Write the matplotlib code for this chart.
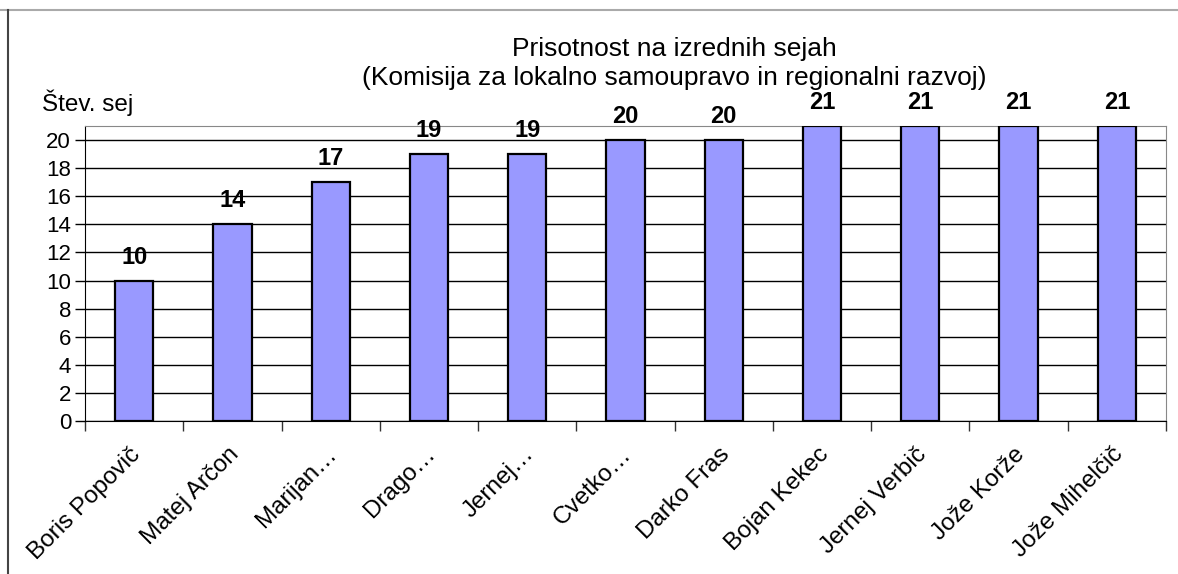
import matplotlib.pyplot as plt
from matplotlib.lines import Line2D

names = ['Boris Popovič', 'Matej Arčon', 'Marijan…', 'Drago…', 'Jernej…', 'Cvetko…',
         'Darko Fras', 'Bojan Kekec', 'Jernej Verbič', 'Jože Korže', 'Jože Mihelčič']
sessions = [10, 14, 17, 19, 19, 20, 20, 21, 21, 21, 21]
yticks = list(range(0, 21, 2))

plt.rcParams['font.family'] = ['Liberation Sans', 'DejaVu Sans']

W, H = 1178, 574
fig = plt.figure(figsize=(W / 100, H / 100), dpi=100)
ax = fig.add_axes([85 / W, 1 - 421 / H, (1166 - 85) / W, 295 / H])

# outer frame of the chart (only top and left edges are visible)
fig.lines.append(Line2D([0, 1], [1 - 9.5 / H, 1 - 9.5 / H], transform=fig.transFigure,
                        color='#aaaaaa', linewidth=1.5))
fig.lines.append(Line2D([7.5 / W, 7.5 / W], [0, 1 - 9.5 / H], transform=fig.transFigure,
                        color='#444444', linewidth=1.5))

x = list(range(len(names)))
ax.bar(x, sessions, width=0.39, color='#9999ff', edgecolor='black', linewidth=1.6, zorder=3)
for xi, v in zip(x, sessions):
    ax.text(xi, v + 0.85, str(v), ha='center', va='bottom', fontsize=17, fontweight='bold')

ax.set_xlim(-0.5, len(names) - 0.5)
ax.set_ylim(0, 21)
ax.set_yticks(yticks)
ax.tick_params(axis='y', labelsize=16, length=7, direction='out', width=1, pad=3)
ax.yaxis.grid(True, color='black', linewidth=1, zorder=0)
ax.set_axisbelow(True)

ax.set_xticks([i + 0.5 for i in x[:-1]] + [-0.5, len(names) - 0.5])
ax.set_xticklabels([])
ax.tick_params(axis='x', length=7, width=1, color='#333333')
for xi, n in zip(x, names):
    ax.annotate(n, (xi, 0), xytext=(-3.5, -16), textcoords='offset points', xycoords='data',
                rotation=45, ha='right', va='top', rotation_mode='anchor', fontsize=17.5)

ax.spines['left'].set_color('black')
ax.spines['bottom'].set_color('black')
ax.spines['top'].set_color('#888888')
ax.spines['right'].set_color('#888888')

fig.text(674 / W, 1 - 49 / H, 'Prisotnost na izrednih sejah', ha='center', va='center', fontsize=19)
fig.text(674 / W, 1 - 78 / H, '(Komisija za lokalno samoupravo in regionalni razvoj)', ha='center',
         va='center', fontsize=19)
fig.text(42 / W, 1 - 103 / H, 'Štev. sej', ha='left', va='center', fontsize=17.5)

fig.savefig('out.png', dpi=100)
